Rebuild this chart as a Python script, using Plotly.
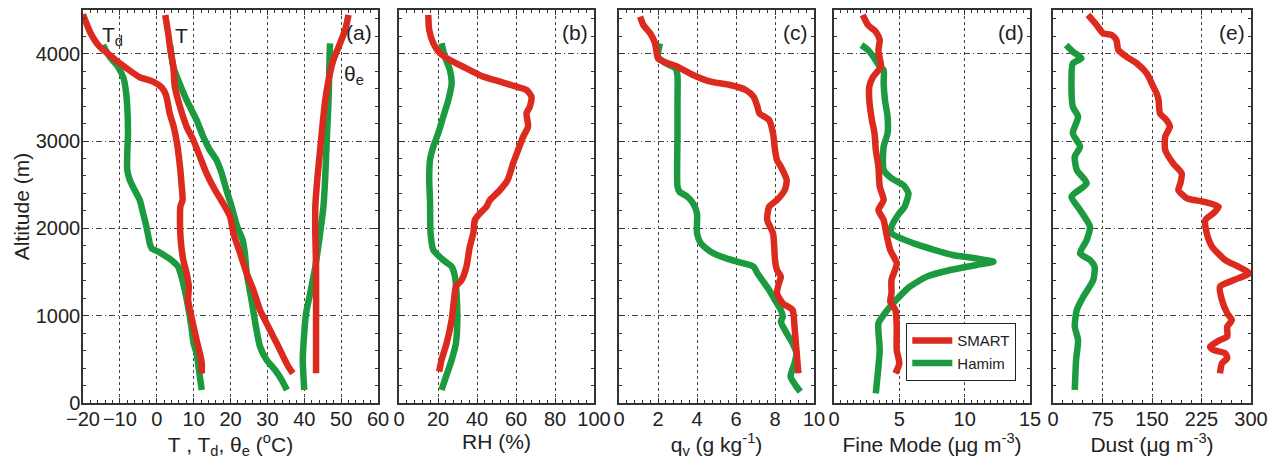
import plotly.graph_objects as go

RED = "#DC2A1E"
GREEN = "#1C9A3F"

# ---------------- Panel (a): temperatures ----------------
td_smart_x = [-20, -18, -15.5, -12.8, -10, -6.9, -4.6, -1, 1.3, 2.5, 3.5, 4.6, 5.5, 6.3, 6.7, 7, 6.4, 6.3, 6.5, 7.2, 8.1, 8.7, 8.5, 9.4, 10.8, 11.7, 12.2, 12.2]
td_smart_y = [4450, 4240, 4080, 3985, 3890, 3795, 3730, 3680, 3615, 3527, 3317, 3164, 2973, 2706, 2515, 2324, 2248, 2095, 1866, 1637, 1485, 1332, 1179, 989, 721, 569, 454, 340]

td_hamim_x = [-14.6, -12.8, -10.5, -9, -8.4, -8, -7.8, -8, -8, -7.3, -6, -4.6, -3.7, -2.8, -1.9, -1.4, 0.4, 2.6, 4.5, 5.8, 6.7, 7.6, 8.5, 9.4, 10, 10.8, 11.2, 11.7, 12.2]
td_hamim_y = [4099, 3966, 3851, 3718, 3584, 3393, 3088, 2859, 2668, 2553, 2439, 2324, 2172, 2019, 1828, 1771, 1733, 1676, 1618, 1561, 1447, 1294, 1103, 874, 683, 569, 454, 302, 149]

t_smart_x = [2.3, 3.1, 3.7, 4.5, 4.9, 6.3, 8.1, 9.9, 11.7, 13.5, 15.8, 18, 19.9, 20.8, 22.6, 24.4, 26.2, 28, 29.8, 31.6, 33, 34.3, 35.7, 36.9]
t_smart_y = [4443, 4233, 4042, 3851, 3622, 3393, 3164, 3011, 2821, 2630, 2439, 2286, 2134, 1943, 1714, 1485, 1294, 1065, 912, 760, 645, 531, 416, 340]

t_hamim_x = [3.6, 4.5, 5.8, 8.1, 10.8, 12.6, 14.4, 16.2, 17.6, 18.9, 20.3, 21.8, 23.3, 23.9, 24.4, 25.7, 26.9, 28, 29.8, 32.1, 33.9, 35.3]
t_hamim_y = [4099, 3851, 3698, 3469, 3240, 3050, 2897, 2782, 2630, 2439, 2248, 2019, 1866, 1714, 1485, 1179, 874, 645, 492, 378, 263, 149]

te_smart_x = [52, 51.1, 49.7, 47.9, 46.6, 45.7, 45, 44.3, 43.6, 43, 43, 43.2, 43.2, 43.2]
te_smart_y = [4443, 4271, 4118, 3927, 3698, 3469, 3202, 2897, 2592, 2248, 1943, 1561, 798, 340]

te_hamim_x = [47, 46.8, 46.6, 46.1, 45.7, 45.2, 44.3, 43, 41.6, 40.5, 40, 39.6, 40]
te_hamim_y = [4118, 3851, 3469, 3011, 2592, 2248, 1943, 1561, 1256, 1027, 798, 492, 149]

# ---------------- Panel (b): RH ----------------
rh_smart_x = [15, 15.5, 17.6, 21, 26.1, 34.6, 43.2, 51.8, 60.2, 65.4, 67.9, 67.1, 65.4, 66.2, 63.7, 61.1, 58.5, 55.7, 51.8, 46.6, 44.9, 41.5, 38.9, 38.1, 36.3, 34.6, 32.1, 29.2, 28.2, 27, 24.4, 21.8, 20.6]
rh_smart_y = [4443, 4271, 4118, 4004, 3927, 3832, 3737, 3679, 3622, 3584, 3508, 3393, 3317, 3164, 3050, 2897, 2744, 2553, 2439, 2324, 2248, 2172, 2095, 1943, 1790, 1561, 1408, 1332, 1179, 950, 683, 492, 359]

rh_hamim_x = [21.8, 23.5, 26.1, 27, 25.3, 22.7, 20.1, 17.6, 15.9, 15.5, 15.9, 16.2, 17.6, 22.7, 27, 28.7, 29.5, 29.9, 29.2, 27, 24.1, 21.8]
rh_hamim_y = [4118, 3966, 3813, 3660, 3469, 3279, 3088, 2935, 2782, 2553, 2324, 1943, 1752, 1637, 1561, 1447, 1256, 950, 683, 492, 302, 149]

# ---------------- Panel (c): qv ----------------
qv_smart_x = [1.08, 1.25, 1.6, 1.85, 2.0, 2.3, 3.0, 3.8, 4.7, 5.7, 6.5, 6.9, 7.1, 7.2, 7.7, 7.9, 8.0, 8.1, 8.3, 8.6, 8.5, 8.1, 7.7, 7.6, 7.9, 8.0, 8.1, 8.3, 8.2, 8.1, 8.4, 8.9, 9.0, 9.1, 9.2]
qv_smart_y = [4424, 4328, 4233, 4118, 3947, 3908, 3851, 3756, 3679, 3641, 3584, 3508, 3393, 3317, 3240, 3088, 2897, 2782, 2706, 2553, 2439, 2324, 2248, 2095, 1943, 1637, 1523, 1447, 1370, 1256, 1141, 1065, 874, 607, 340]

qv_hamim_x = [2.1, 2.0, 2.4, 2.9, 3.0, 3.0, 3.0, 3.0, 3.1, 3.5, 3.8, 4.0, 4.0, 4.2, 4.7, 5.5, 6.4, 6.9, 7.1, 7.4, 7.7, 8.0, 8.3, 8.4, 8.3, 8.6, 8.9, 9.1, 9.0, 8.8, 9.1, 9.3]
qv_hamim_y = [4118, 3966, 3889, 3832, 3737, 3469, 3088, 2477, 2420, 2363, 2286, 2172, 1943, 1828, 1733, 1656, 1599, 1561, 1485, 1389, 1294, 1179, 1065, 989, 931, 798, 683, 569, 454, 302, 187, 130]

# ---------------- Panel (d): fine mode ----------------
fm_smart_x = [2.2, 2.6, 3.2, 3.5, 3.4, 3.5, 3.6, 3.0, 2.7, 2.7, 2.9, 3.1, 3.2, 3.4, 3.5, 3.8, 3.4, 3.8, 4.0, 4.3, 4.8, 4.4, 4.4, 4.3, 4.7, 4.8, 4.8, 5.0, 4.7]
fm_smart_y = [4443, 4328, 4252, 4156, 4042, 3947, 3851, 3737, 3622, 3469, 3240, 3088, 2897, 2706, 2477, 2324, 2210, 2095, 1943, 1752, 1599, 1408, 1256, 1160, 1065, 874, 607, 454, 340]

fm_hamim_x = [2.1, 2.6, 3.1, 3.5, 3.8, 3.8, 3.9, 4.1, 4.1, 3.8, 3.8, 4.4, 5.3, 5.7, 5.4, 4.9, 4.4, 4.4, 6.1, 9.1, 10.9, 12.2, 10.9, 8.9, 7.1, 5.8, 5.0, 4.3, 3.8, 3.4, 3.5, 3.4, 3.2]
fm_hamim_y = [4099, 4042, 3947, 3851, 3813, 3660, 3469, 3279, 3088, 2935, 2668, 2573, 2496, 2401, 2248, 2153, 2019, 1943, 1828, 1695, 1656, 1618, 1580, 1523, 1447, 1332, 1218, 1103, 1008, 912, 607, 416, 111]

# ---------------- Panel (e): dust ----------------
dust_smart_x = [53, 66, 76, 89, 96, 99, 111, 127, 142, 152, 157, 160, 162, 172, 177, 170, 170, 182, 195, 193, 190, 203, 228, 251, 243, 231, 233, 241, 261, 281, 297, 274, 253, 256, 264, 271, 264, 264, 253, 238, 243, 261, 264, 256, 253]
dust_smart_y = [4443, 4328, 4233, 4214, 4156, 4042, 3966, 3889, 3775, 3622, 3546, 3469, 3317, 3240, 3164, 3050, 2897, 2744, 2630, 2515, 2439, 2343, 2305, 2248, 2172, 2095, 1943, 1790, 1637, 1561, 1485, 1408, 1332, 1179, 1027, 950, 874, 760, 721, 645, 607, 569, 511, 454, 340]

dust_hamim_x = [20, 30, 43, 30, 28, 30, 38, 30, 41, 33, 36, 51, 28, 41, 56, 51, 41, 56, 63, 61, 46, 36, 33, 38, 35, 33]
dust_hamim_y = [4099, 4023, 3947, 3889, 3660, 3393, 3279, 3088, 2935, 2821, 2668, 2515, 2363, 2210, 2019, 1866, 1714, 1637, 1561, 1408, 1218, 1065, 874, 721, 492, 149]

# axis definitions
x_ranges = [[-20, 60], [0, 100], [0, 10], [0, 15], [0, 300]]
x_dticks = [10, 20, 2, 5, 75]
x_minor = [2, 4, 0.4, 0.5, 15]
x_titles = ["T , T<sub>d</sub>, θ<sub>e</sub> (<sup>o</sup>C)", "RH (%)",
            "q<sub>v</sub> (g kg<sup>-1</sup>)", "Fine Mode (μg m<sup>-3</sup>)",
            "Dust (μg m<sup>-3</sup>)"]
panel_tags = ["(a)", "(b)", "(c)", "(d)", "(e)"]
y_range = [0, 4500]

FONT = "Arial, Liberation Sans, sans-serif"
INK = "#222222"
W, H = 1275, 462
ML, MR, MT, MB = 83, 24, 10, 59
pw = W - ML - MR
ph = H - MT - MB
px = [(83, 378), (399, 594), (619, 814), (834, 1030), (1053, 1251)]
domains = [[(a - ML) / pw, (b - ML) / pw] for a, b in px]

fig = go.Figure()

def add(xs, ys, color, name, axis_i, show):
    suf = "" if axis_i == 1 else str(axis_i)
    fig.add_trace(go.Scatter(
        x=xs, y=ys, mode="lines", name=name, showlegend=show,
        line=dict(color=color, width=6.5, shape="spline", smoothing=0.6),
        xaxis="x" + suf, yaxis="y" + suf))

# panel a
add(td_hamim_x, td_hamim_y, GREEN, "Hamim", 1, False)
add(t_hamim_x, t_hamim_y, GREEN, "Hamim", 1, False)
add(te_hamim_x, te_hamim_y, GREEN, "Hamim", 1, False)
add(td_smart_x, td_smart_y, RED, "SMART", 1, False)
add(t_smart_x, t_smart_y, RED, "SMART", 1, False)
add(te_smart_x, te_smart_y, RED, "SMART", 1, False)
# panel b
add(rh_hamim_x, rh_hamim_y, GREEN, "Hamim", 2, False)
add(rh_smart_x, rh_smart_y, RED, "SMART", 2, False)
# panel c
add(qv_hamim_x, qv_hamim_y, GREEN, "Hamim", 3, False)
add(qv_smart_x, qv_smart_y, RED, "SMART", 3, False)
# panel d (legend here)
add(fm_hamim_x, fm_hamim_y, GREEN, "Hamim", 4, True)
add(fm_smart_x, fm_smart_y, RED, "SMART", 4, True)
# panel e
add(dust_hamim_x, dust_hamim_y, GREEN, "Hamim", 5, False)
add(dust_smart_x, dust_smart_y, RED, "SMART", 5, False)

layout = dict(
    width=W, height=H,
    margin=dict(l=ML, r=MR, t=MT, b=MB, autoexpand=False),
    paper_bgcolor="white", plot_bgcolor="white",
    font=dict(family=FONT, color=INK, size=20),
    legend=dict(x=(906 - ML) / pw, y=(403 - 323) / ph, xanchor="left", yanchor="top",
                bordercolor=INK, borderwidth=1.3, bgcolor="white",
                font=dict(size=15, family=FONT), traceorder="reversed",
                tracegroupgap=2, itemwidth=40),
)

for i in range(5):
    suf = "" if i == 0 else str(i + 1)
    layout["xaxis" + suf] = dict(
        domain=domains[i], range=x_ranges[i], dtick=x_dticks[i], tick0=x_ranges[i][0],
        anchor="y" + suf, showline=True, linecolor="#333333", linewidth=1.5, mirror="allticks",
        ticks="inside", ticklen=5, tickcolor="#333333", tickwidth=1.2,
        minor=dict(dtick=x_minor[i], ticks="inside", ticklen=3, tickcolor="#333333", showgrid=False),
        showgrid=True, gridcolor="#444444", gridwidth=1, griddash="3px,3px",
        zeroline=False, tickfont=dict(size=20, family=FONT), automargin=False,
        ticklabelstandoff=-3,
        title=dict(text=x_titles[i], font=dict(size=21, family=FONT), standoff=0),
    )
    layout["yaxis" + suf] = dict(
        domain=[0, 1], range=y_range, dtick=1000, anchor="x" + suf,
        showline=True, linecolor="#333333", linewidth=1.5, mirror="allticks",
        ticks="inside", ticklen=5, tickcolor="#333333", tickwidth=1.2,
        minor=dict(dtick=200, ticks="inside", ticklen=3, tickcolor="#333333", showgrid=False),
        showgrid=True, gridcolor="#444444", gridwidth=1, griddash="6px,3px,1px,3px",
        zeroline=False, showticklabels=(i == 0), tickfont=dict(size=20, family=FONT),
        automargin=False, ticklabelstandoff=-3,
        title=dict(text="Altitude (m)" if i == 0 else "", font=dict(size=21, family=FONT), standoff=0),
    )

fig.update_layout(**layout)

# panel tags
for i, tag in enumerate(panel_tags):
    suf = "" if i == 0 else str(i + 1)
    fig.add_annotation(text=tag, xref=("x" + suf) + " domain", yref="y domain",
                       x=1, y=1, xanchor="right", yanchor="top", xshift=-4, yshift=-9,
                       showarrow=False, font=dict(size=21, family=FONT, color=INK))

# curve labels in panel (a)
fig.add_annotation(text="T<sub>d</sub>", x=-15.5, y=4200, xref="x", yref="y", xanchor="left",
                   yanchor="middle", showarrow=False, font=dict(size=21, family=FONT, color=INK))
fig.add_annotation(text="T", x=4.5, y=4210, xref="x", yref="y", xanchor="left",
                   yanchor="middle", showarrow=False, font=dict(size=21, family=FONT, color=INK))
fig.add_annotation(text="θ<sub>e</sub>", x=50.3, y=3760, xref="x", yref="y", xanchor="left",
                   yanchor="middle", showarrow=False, font=dict(size=21, family=FONT, color=INK))

fig.write_html("out.html", config={"displayModeBar": False},
               post_script="document.body.style.margin='0';document.body.style.padding='0';")
